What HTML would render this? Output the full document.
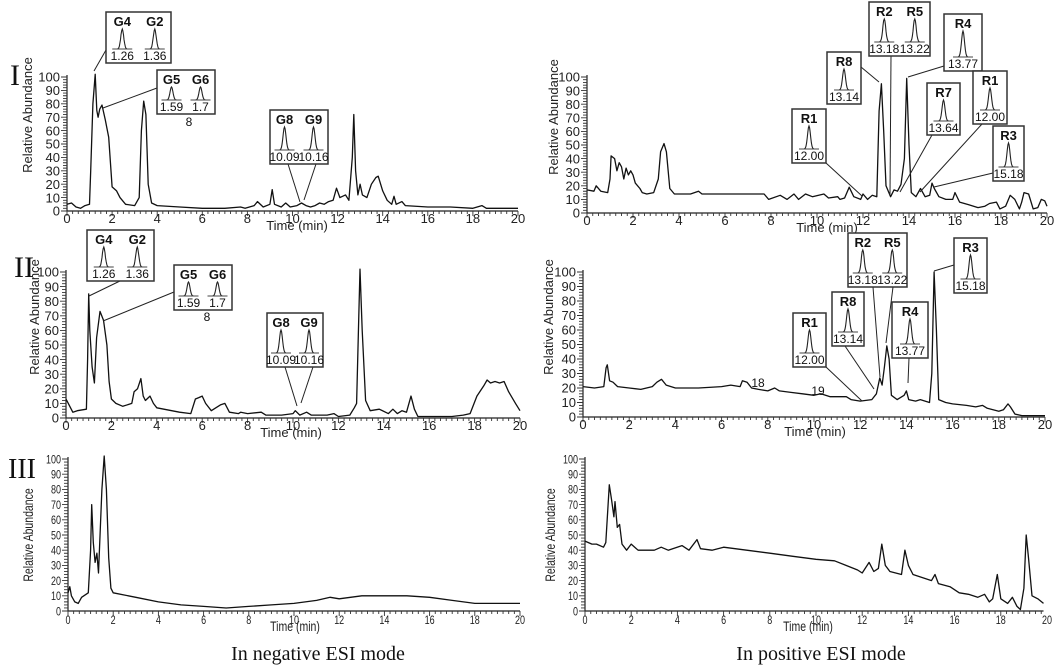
<!DOCTYPE html>
<html><head><meta charset="utf-8"><style>
html,body{margin:0;padding:0;background:#fff;}
svg{display:block;font-family:"Liberation Sans",sans-serif;}
.ser{font-family:"Liberation Serif",serif;}
</style></head><body>
<svg id="fig" width="1059" height="668" viewBox="0 0 1059 668" xmlns="http://www.w3.org/2000/svg"></svg>
<script>
// ---- data: [time (min), relative abundance] ----
const negI = [[0,5],[0.2,6],[0.4,3],[0.6,2],[0.8,4],[1.0,5],[1.05,30],[1.15,80],[1.25,102],[1.32,75],[1.38,70],[1.45,76],[1.55,79],[1.7,68],[1.85,55],[2.0,18],[2.2,15],[2.35,10],[2.6,5],[3.0,4],[3.2,10],[3.3,60],[3.4,82],[3.5,72],[3.6,20],[3.75,6],[4.0,4],[5,3],[6,2],[7,2],[7.7,3],[7.9,2],[8.3,4],[8.45,7],[8.7,3],[9.0,5],[9.1,16],[9.2,5],[9.5,3],[9.7,6],[9.9,3],[10.2,4],[10.4,6],[10.6,4],[10.8,3],[11.0,4],[11.2,6],[11.4,5],[11.6,7],[11.8,8],[11.95,17],[12.1,10],[12.35,12],[12.5,8],[12.65,40],[12.72,72],[12.8,30],[12.9,12],[13.0,20],[13.1,12],[13.3,10],[13.5,20],[13.7,25],[13.8,26],[14.0,15],[14.2,8],[14.4,5],[14.5,11],[14.6,5],[14.85,7],[15,4],[16,3],[17,3],[18,2],[18.4,4],[18.6,2],[19,2],[20,2]];
const posI = [[0,17],[0.3,16],[0.4,20],[0.6,16],[0.9,15],[1.0,25],[1.05,42],[1.2,40],[1.3,31],[1.4,37],[1.5,34],[1.6,25],[1.7,33],[1.8,28],[1.9,31],[2.0,28],[2.1,22],[2.3,18],[2.4,15],[2.6,14],[2.9,15],[3.1,25],[3.2,45],[3.35,51],[3.45,45],[3.6,18],[3.8,14],[4.5,14],[4.85,16],[5,14],[6,14],[7,14],[7.7,14],[7.9,10],[8.4,13],[8.7,10],[9,14],[9.2,10],[9.5,14],[9.8,12],[10.3,14],[10.5,11],[10.9,12],[11.0,10],[11.2,11],[11.4,19],[11.6,12],[11.9,10],[12.0,14],[12.2,10],[12.4,13],[12.6,12],[12.7,75],[12.8,95],[12.9,60],[13.0,20],[13.2,12],[13.35,17],[13.5,16],[13.65,21],[13.8,40],[13.9,99],[14.0,50],[14.1,15],[14.3,12],[14.5,18],[14.7,12],[14.9,13],[15.0,22],[15.1,18],[15.3,12],[15.6,10],[15.9,10],[16.0,15],[16.2,8],[16.6,6],[17,4],[17.3,5],[17.5,7],[17.8,8],[17.95,3],[18.2,5],[18.4,13],[18.6,10],[18.8,3],[18.9,8],[19.0,15],[19.2,14],[19.4,3],[19.6,4],[19.75,10],[19.9,9],[20,5]];
const negII = [[0,13],[0.1,10],[0.3,4],[0.5,5],[0.9,6],[0.95,40],[1.0,85],[1.05,60],[1.15,35],[1.25,24],[1.35,55],[1.5,73],[1.65,67],[1.8,50],[1.9,25],[2.0,13],[2.2,10],[2.5,8],[2.9,10],[3.0,18],[3.15,20],[3.3,27],[3.4,15],[3.5,12],[3.7,15],[3.85,10],[4.0,7],[5,4],[5.5,3],[5.7,13],[5.85,14],[6.0,15],[6.15,10],[6.4,5],[6.8,9],[7.0,10],[7.2,4],[7.6,3],[7.7,4],[8.0,3],[8.6,4],[8.8,2],[9.5,2],[10.0,3],[10.1,5],[10.3,2],[10.6,4],[10.8,2],[11.5,2],[11.8,3],[12.0,1],[12.5,2],[12.7,7],[12.8,10],[12.9,70],[12.95,102],[13.05,60],[13.2,12],[13.4,5],[13.8,6],[14.2,3],[14.4,6],[14.6,3],[14.8,5],[15.0,4],[15.2,15],[15.35,6],[15.5,1],[16,1],[17,1],[17.5,2],[17.8,3],[18.1,15],[18.4,22],[18.55,26],[18.7,24],[18.9,25],[19.1,24],[19.3,25],[19.5,18],[19.8,10],[20,5]];
const posII = [[0,21],[0.5,20],[0.9,21],[1.0,34],[1.05,36],[1.15,25],[1.3,24],[1.5,21],[2,20],[2.5,19],[3,21],[3.2,24],[3.4,26],[3.6,22],[4,20],[5,20],[6,21],[6.4,22],[6.8,21],[6.9,25],[7.1,24],[7.3,20],[7.6,19],[8.0,18],[8.3,20],[8.5,18],[9,17],[9.5,16],[10,15],[10.3,16],[10.7,14],[11.0,14],[11.4,14],[11.6,12],[12,11],[12.5,12],[12.7,16],[12.85,27],[12.95,22],[13.05,35],[13.15,49],[13.25,40],[13.35,15],[13.6,12],[13.9,15],[14.0,18],[14.1,12],[14.4,11],[14.6,12],[15.0,10],[15.1,30],[15.2,100],[15.3,60],[15.4,12],[15.7,10],[16,9],[16.6,8],[17,7],[17.3,8],[17.5,6],[18,4],[18.2,5],[18.4,9],[18.5,7],[18.7,2],[19,1],[20,1]];
const negIII = [[0,12],[0.08,16],[0.15,10],[0.3,6],[0.45,5],[0.6,9],[0.9,12],[1.0,40],[1.05,70],[1.12,45],[1.2,32],[1.28,38],[1.35,25],[1.5,80],[1.6,102],[1.7,80],[1.8,35],[1.9,15],[2,12],[3,9],[4,6],[5,4],[6,3],[7,2],[8,3],[9,4],[10,5],[11,7],[11.6,9],[12,8],[13,10],[14,10],[15,10],[16,9],[17,7],[18,5],[19,5],[20,5]];
const posIII = [[0,46],[0.3,44],[0.5,44],[0.8,42],[0.9,45],[1.0,70],[1.05,83],[1.15,73],[1.25,62],[1.3,72],[1.4,55],[1.5,57],[1.6,44],[1.8,40],[2,44],[2.3,40],[3,40],[3.3,42],[3.6,40],[4.2,43],[4.5,40],[4.85,47],[5,41],[5.5,40],[6,42],[7,40],[8,38],[9,36],[10,34],[10.8,33],[11.3,30],[11.8,27],[12.0,25],[12.3,32],[12.5,26],[12.7,28],[12.85,44],[13.0,30],[13.2,26],[13.7,24],[13.85,40],[14.0,30],[14.2,24],[15,20],[15.15,24],[15.3,18],[15.8,16],[16.2,12],[16.6,11],[17,9],[17.3,11],[17.5,6],[17.65,8],[17.85,24],[18.0,8],[18.3,5],[18.5,9],[18.7,3],[18.85,1],[19.0,15],[19.1,50],[19.2,35],[19.35,10],[19.6,8],[19.85,5]];
const xTickLabels = ["0","2","4","6","8","10","12","14","16","18","20"];
const yTickLabels = ["0","10","20","30","40","50","60","70","80","90","100"];

const NS = "http://www.w3.org/2000/svg";
const fig = document.getElementById("fig");
function mk(tag, attrs, parent, txt){
  const e = document.createElementNS(NS, tag);
  for (const k in attrs) e.setAttribute(k, attrs[k]);
  if (txt !== undefined) e.textContent = txt;
  (parent || fig).appendChild(e);
  return e;
}

function panel(name, cfg, data){
  const g = mk("g", {});
  
  
  const xs = t => cfg.x0 + (cfg.x20 - cfg.x0) * t / 20;
  const ys = v => cfg.yb - (cfg.yb - cfg.yt) * v / 100;
  const sx = cfg.sx || 1;
  const ax = mk("path", {d:`M${cfg.x0},${cfg.yt-2}V${cfg.yb}H${xs(cfg.xend)}`, stroke:"#222", "stroke-width":1.2, fill:"none"}, g);
  
  
  let d = "";
  for (let v = 0; v <= 100; v += 2){ const L = v % 10 === 0 ? 6 : 4; d += `M${cfg.x0-L},${ys(v)}H${cfg.x0}`; }
  let xd = "";
  for (let t = 0; t <= cfg.xend + 1e-6; t += 0.25){ const L = Math.abs(t/2 - Math.round(t/2)) < 1e-6 ? 5 : 3; xd += `M${xs(t)},${cfg.yb}V${cfg.yb+L}`; }
  const tk = mk("path", {d: d + xd, stroke:"#333", "stroke-width":0.9, fill:"none"}, g);
  
  
  const fs = cfg.fs || 13;
  yTickLabels.forEach((lab, i) => {
    const y = ys(i * 10);
    const tx = mk("text", {x: cfg.x0 - 7, y: y + fs*0.36, "font-size": fs, "text-anchor":"end", fill:"#222",
      transform: sx !== 1 ? `translate(${cfg.x0-7},0) scale(${sx},1) translate(${-(cfg.x0-7)},0)` : ""}, g, lab);
    
    
  });
  xTickLabels.forEach((lab, i) => {
    const t = i * 2;
    if (t > cfg.xend + 0.5) return;
    const x = xs(t);
    const tx = mk("text", {x: x, y: cfg.yb + 12 + (cfg.xlo||0), "font-size": fs, "text-anchor":"middle", fill:"#222",
      transform: sx !== 1 ? `translate(${x},0) scale(${sx},1) translate(${-x},0)` : ""}, g, lab);
    
    
  });
  const tfs = cfg.tfs || fs;
  const tl = mk("text", {x: cfg.tx, y: cfg.yb + 19 + (cfg.xlo||0), "font-size": tfs, "text-anchor":"middle", fill:"#222",
    transform: sx !== 1 ? `translate(${cfg.tx},0) scale(${sx},1) translate(${-cfg.tx},0)` : ""}, g, "Time (min)");
  
  
  const yt = mk("text", {x: 0, y: 0, "font-size": tfs, "text-anchor":"middle", fill:"#222",
    transform: `translate(${cfg.ytx},${cfg.yty}) rotate(-90) scale(${sx},1)`}, g, "Relative Abundance");
  
  
  const pts = data.map(p => `${xs(p[0]).toFixed(1)},${ys(p[1]).toFixed(1)}`).join(" ");
  const ln = mk("polyline", {points: pts, fill:"none", stroke:"#111", "stroke-width":1.3, "stroke-linejoin":"round"}, g);
  
  
  return g;
}

function peak(g, cx, base, h, w){
  let d = "";
  for (let i = -10; i <= 10; i++){ const x = cx + i * w / 10; const y = base - h * Math.exp(-(i*i)/12); d += (i === -10 ? "M" : "L") + x.toFixed(1) + "," + y.toFixed(1); }
  mk("path", {d: d, fill:"none", stroke:"#222", "stroke-width":1.1}, g);
  mk("line", {x1: cx - w - 4, y1: base, x2: cx + w + 4, y2: base, stroke:"#444", "stroke-width":0.9}, g);
}

function inset(name, x, y, w, h, items){
  const g = mk("g", {});
  
  
  mk("rect", {x: x, y: y, width: w, height: h, fill:"#fff", stroke:"#333", "stroke-width":1.5}, g);
  const n = items.length;
  items.forEach((it, i) => {
    const cx = x + w * (i + 0.5) / n;
    const lb = mk("text", {x: cx, y: y + 14, "font-size": 13, "font-weight":"bold", "text-anchor":"middle", fill:"#111"}, g, it[0]);
    
    
    const base = y + h - 14;
    peak(g, cx, base, base - (y + 17), 6);
    const nv = mk("text", {x: cx, y: y + h - 3, "font-size": 12, "text-anchor":"middle", fill:"#111"}, g, it[1]);
    
    
  });
  return g;
}

function leader(x1, y1, x2, y2){
  const l = mk("line", {x1, y1, x2, y2, stroke:"#222", "stroke-width":1});
  
  
}
function label(txt, x, y, size, name, cls){
  const t = mk("text", {x, y, "font-size": size, "text-anchor":"middle", fill:"#111", class: cls || ""}, fig, txt);
  
  
}

panel("panel-I-negative", {x0:67, x20:518, xend:20, yb:211, yt:77, tx:297, ytx:32, yty:115}, negI);
panel("panel-I-positive", {x0:587, x20:1047, xend:20, yb:213, yt:77, tx:827, ytx:558, yty:117}, posI);
panel("panel-II-negative", {x0:66, x20:520, xend:20, yb:418, yt:272, tx:291, ytx:39, yty:317}, negII);
panel("panel-II-positive", {x0:583, x20:1045, xend:20, yb:417, yt:272, tx:815, ytx:553, yty:317}, posII);
panel("panel-III-negative", {x0:68, x20:520, xend:20, yb:611, yt:459, tx:295, ytx:33, yty:535, sx:0.75, fs:12, tfs:14, xlo:1}, negIII);
panel("panel-III-positive", {x0:585, x20:1047, xend:19.85, yb:611, yt:459, tx:808, ytx:555, yty:535, sx:0.75, fs:12, tfs:14, xlo:1}, posIII);

label("I", 15, 85, 30, "row-label-I", "ser");
label("II", 24, 277, 30, "row-label-II", "ser");
label("III", 22, 478, 28, "row-label-III", "ser");
label("In negative ESI mode", 318, 660, 20, "caption-negative", "ser");
label("In positive ESI mode", 821, 660, 20, "caption-positive", "ser");
label("8", 189, 126, 12, "note-8");
label("8", 207, 321, 12, "note-8");
label("18", 758, 387, 12, "note-18");
label("19", 818, 395, 12, "note-19");

leader(94,71,106,50); leader(103,108,157,88);
leader(288,164,300,202); leader(316,164,304,200);
inset("inset-G4-G2", 106, 12, 65, 51, [["G4","1.26"],["G2","1.36"]]);
inset("inset-G5-G6", 157, 70, 58, 44, [["G5","1.59"],["G6","1.7"]]);
inset("inset-G8-G9", 270, 110, 58, 54, [["G8","10.09"],["G9","10.16"]]);
leader(826,163,862,196); leader(861,67,879,82); leader(891,56,890,195);
leader(944,66,908,77); leader(932,135,900,192); leader(982,124,920,192); leader(993,173,934,187);
inset("inset-R1", 792, 109, 34, 54, [["R1","12.00"]]);
inset("inset-R8", 827, 52, 34, 52, [["R8","13.14"]]);
inset("inset-R2-R5", 869, 2, 61, 54, [["R2","13.18"],["R5","13.22"]]);
inset("inset-R4", 944, 14, 38, 57, [["R4","13.77"]]);
inset("inset-R7", 927, 83, 33, 52, [["R7","13.64"]]);
inset("inset-R1b", 973, 71, 34, 53, [["R1","12.00"]]);
inset("inset-R3", 993, 126, 31, 55, [["R3","15.18"]]);
leader(89,296,122,280); leader(103,321,174,292);
leader(285,367,297,406); leader(313,367,301,403);
inset("inset-G4-G2-II", 87, 230, 67, 51, [["G4","1.26"],["G2","1.36"]]);
inset("inset-G5-G6-II", 174, 265, 58, 45, [["G5","1.59"],["G6","1.7"]]);
inset("inset-G8-G9-II", 267, 313, 56, 54, [["G8","10.09"],["G9","10.16"]]);
leader(826,367,862,401); leader(845,346,874,389);
leader(873,287,880,377); leader(893,287,886,343);
leader(909,358,908,383); leader(954,265,934,271);
inset("inset-R1-II", 793, 313, 33, 54, [["R1","12.00"]]);
inset("inset-R8-II", 832, 292, 32, 54, [["R8","13.14"]]);
inset("inset-R2-R5-II", 848, 233, 59, 54, [["R2","13.18"],["R5","13.22"]]);
inset("inset-R4-II", 892, 302, 36, 56, [["R4","13.77"]]);
inset("inset-R3-II", 954, 238, 33, 55, [["R3","15.18"]]);
</script>
</body></html>
